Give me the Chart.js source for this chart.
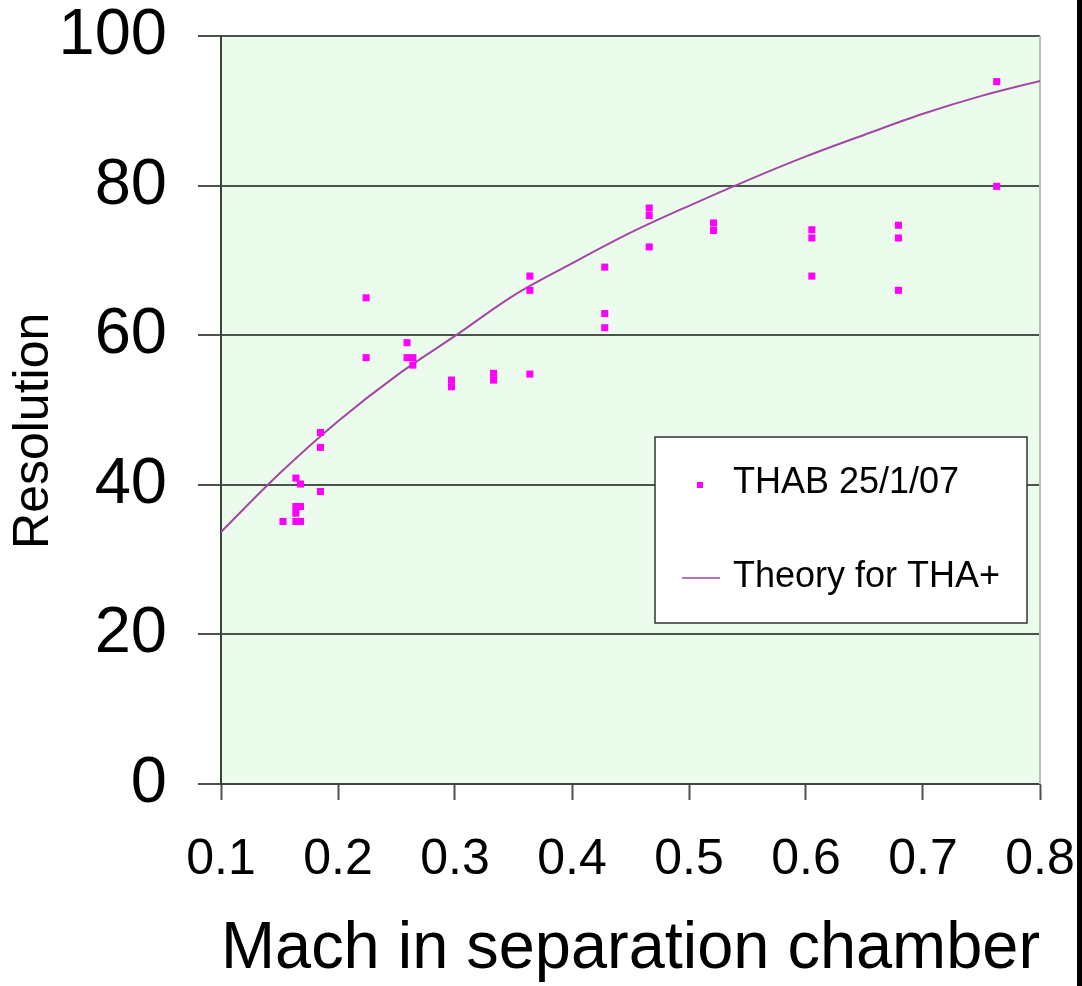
<!DOCTYPE html>
<html><head><meta charset="utf-8">
<script src="https://cdn.jsdelivr.net/npm/chart.js@4.4.1/dist/chart.umd.min.js"></script>
<style>
html,body{margin:0;padding:0;background:#fff;}
#wrap{position:relative;width:1082px;height:986px;overflow:hidden;}
#bar{position:absolute;left:1077px;top:0;width:5px;height:986px;background:#000;}
</style></head><body>
<div id="wrap"><canvas id="c" width="1082" height="986"></canvas><div id="bar"></div></div>
<script>
// ---- data ----
const xTicks = [0.1, 0.2, 0.3, 0.4, 0.5, 0.6, 0.7, 0.8];
const yTicks = [0, 20, 40, 60, 80, 100];
const thabLabel = 'THAB 25/1/07';
const thabX = [0.153, 0.164, 0.168, 0.164, 0.164, 0.168, 0.164, 0.168,
  0.185, 0.185, 0.185, 0.224, 0.224, 0.259, 0.259, 0.264, 0.264,
  0.297, 0.297, 0.333, 0.333, 0.364, 0.364, 0.364, 0.428, 0.428, 0.428,
  0.466, 0.466, 0.466, 0.521, 0.521, 0.605, 0.605, 0.605, 0.679, 0.679, 0.679,
  0.763, 0.763];
const thabY = [35.1, 35.1, 35.1, 36.2, 37.1, 37.1, 40.9, 40.1,
  47.0, 45.0, 39.1, 65.0, 57.0, 59.0, 57.0, 57.0, 56.0,
  54.0, 53.1, 54.9, 54.0, 54.8, 67.9, 66.0, 69.1, 62.9, 61.0,
  77.0, 76.0, 71.8, 75.0, 74.0, 74.1, 73.0, 67.9, 74.7, 73.0, 66.0,
  93.9, 79.9];
const theoryLabel = 'Theory for THA+';
const theoryX = [0.1, 0.15, 0.2, 0.25, 0.3, 0.35, 0.4, 0.45, 0.5, 0.55, 0.6, 0.65, 0.7, 0.75, 0.8];
const theoryY = [33.7, 41.5, 48.5, 54.6, 59.9, 65.3, 69.6, 73.7, 77.3, 80.7, 83.9, 86.8, 89.6, 92.0, 94.0];

const FONT = '"Liberation Sans", Arial, Helvetica, sans-serif';
const MAGENTA = '#FF00FF';
const PURPLE = '#A446A4';

const bgPlugin = {
  id: 'plotBg',
  beforeDraw(chart) {
    const {ctx, chartArea: a} = chart;
    ctx.save();
    ctx.fillStyle = '#ECFCEC';
    ctx.fillRect(a.left, a.top, a.right - a.left, a.bottom - a.top);
    ctx.restore();
  },
  beforeDatasetsDraw(chart) {
    const {ctx, chartArea: a} = chart;
    ctx.save();
    ctx.strokeStyle = '#B4C4B4';
    ctx.lineWidth = 2;
    ctx.beginPath();
    ctx.moveTo(a.right, a.top);
    ctx.lineTo(a.right, a.bottom);
    ctx.stroke();
    ctx.restore();
  }
};

const legendPlugin = {
  id: 'boxLegend',
  afterDatasetsDraw(chart) {
    const ctx = chart.ctx;
    const ds = chart.data.datasets;
    ctx.save();
    const bx = 655, by = 437, bw = 372, bh = 186;
    ctx.fillStyle = '#FFFFFF';
    ctx.fillRect(bx, by, bw, bh);
    ctx.strokeStyle = '#333333';
    ctx.lineWidth = 1.5;
    ctx.strokeRect(bx, by, bw, bh);
    ctx.font = '36px ' + FONT;
    ctx.textBaseline = 'alphabetic';
    ctx.textAlign = 'left';
    ctx.fillStyle = ds[0].backgroundColor;
    ctx.fillRect(697, 482, 6, 6);
    ctx.fillStyle = '#000';
    ctx.fillText(ds[0].label, 733, 493);
    ctx.strokeStyle = ds[1].borderColor;
    ctx.lineWidth = 1.5;
    ctx.beginPath();
    ctx.moveTo(682, 578);
    ctx.lineTo(720, 578);
    ctx.stroke();
    ctx.fillText(ds[1].label, 733, 587);
    ctx.restore();
  }
};

function zeroPad(s) { s.paddingTop = 0; s.paddingBottom = 0; s.paddingLeft = 0; s.paddingRight = 0; }

new Chart(document.getElementById('c'), {
  type: 'scatter',
  data: {
    datasets: [
      {
        label: thabLabel,
        data: thabX.map((x, i) => ({x, y: thabY[i]})),
        pointStyle: 'rect',
        pointRadius: 5,
        pointBorderWidth: 0,
        backgroundColor: MAGENTA,
        borderColor: MAGENTA,
        showLine: false,
        order: 0
      },
      {
        label: theoryLabel,
        data: theoryX.map((x, i) => ({x, y: theoryY[i]})),
        showLine: true,
        borderColor: PURPLE,
        backgroundColor: PURPLE,
        borderWidth: 2,
        pointRadius: 0,
        tension: 0.3,
        cubicInterpolationMode: 'monotone',
        order: 1
      }
    ]
  },
  options: {
    responsive: false,
    animation: false,
    layout: {padding: {left: 0, right: 42, top: 36, bottom: 0}},
    plugins: {legend: {display: false}, tooltip: {enabled: false}},
    scales: {
      x: {
        type: 'linear', min: 0.1, max: 0.8,
        afterBuildTicks(s) { s.ticks = xTicks.map(v => ({value: v})); },
        afterFit(s) { s.height = 202; zeroPad(s); },
        ticks: {
          callback: v => v.toFixed(1),
          font: {family: FONT, size: 50},
          color: '#000',
          padding: 30,
          maxRotation: 0,
          autoSkip: false
        },
        grid: {drawOnChartArea: false, drawTicks: true, tickLength: 16, tickColor: '#4a544a', tickWidth: 2},
        border: {display: true, color: '#3e463e', width: 2},
        title: {
          display: true, text: 'Mach in separation chamber', color: '#000',
          font: {family: FONT, size: 66, lineHeight: 1},
          padding: {top: 0, bottom: 3}
        }
      },
      y: {
        type: 'linear', min: 0, max: 100,
        afterBuildTicks(s) { s.ticks = yTicks.map(v => ({value: v})); },
        afterFit(s) { s.width = 221; zeroPad(s); },
        ticks: {
          font: {family: FONT, size: 65},
          color: '#000',
          padding: 31
        },
        grid: {color: '#4a544a', lineWidth: 2, drawTicks: true, tickLength: 23, tickColor: '#4a544a', tickWidth: 2},
        border: {display: true, color: '#3a423a', width: 2},
        title: {
          display: true, text: 'Resolution   ', color: '#000',
          font: {family: FONT, size: 50, lineHeight: 1},
          padding: {top: 9, bottom: 0}
        }
      }
    }
  },
  plugins: [bgPlugin, legendPlugin]
});
</script>
</body></html>
